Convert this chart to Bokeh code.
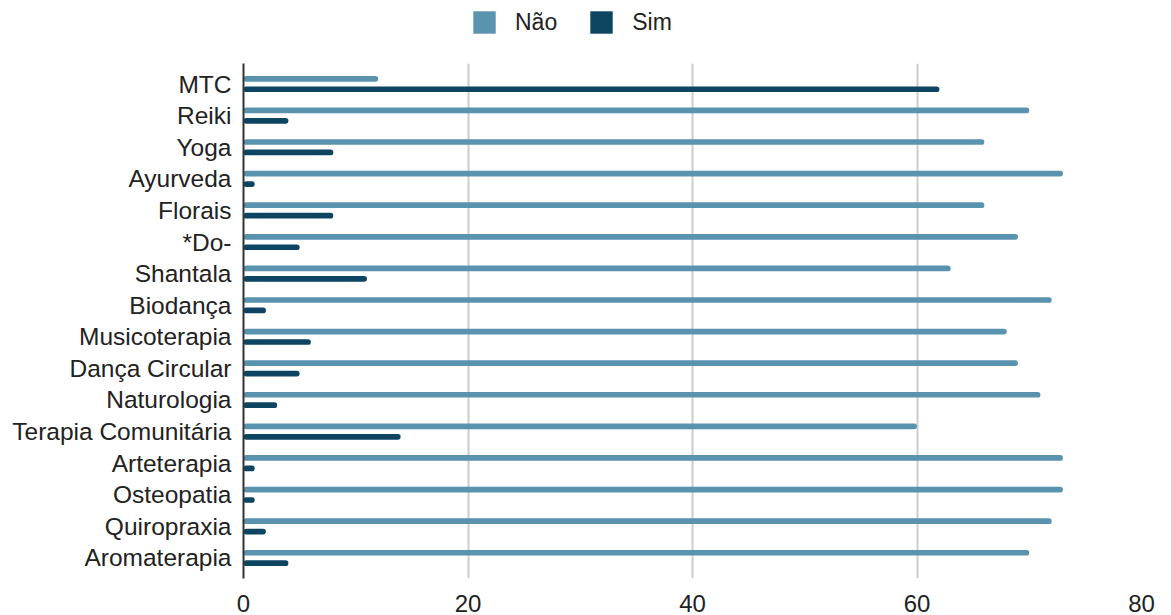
from bokeh.plotting import figure
from bokeh.layouts import column
from bokeh.models import ColumnDataSource, FactorRange, Range1d, Legend, LegendItem, FixedTicker
from bokeh.transform import dodge
from bokeh.embed import file_html
from bokeh.resources import INLINE

categories = ["MTC", "Reiki", "Yoga", "Ayurveda", "Florais", "*Do-", "Shantala", "Biodança",
              "Musicoterapia", "Dança Circular", "Naturologia", "Terapia Comunitária",
              "Arteterapia", "Osteopatia", "Quiropraxia", "Aromaterapia"]
nao = [12, 70, 66, 73, 66, 69, 63, 72, 68, 69, 71, 60, 73, 73, 72, 70]
sim = [62, 4, 8, 1, 8, 5, 11, 2, 6, 5, 3, 14, 1, 1, 2, 4]
series = ["Não", "Sim"]
x_ticks = [0, 20, 40, 60, 80]

C_NAO = "#5a93ad"
C_SIM = "#0c4462"
FONT = "Liberation Sans"

src = ColumnDataSource(data=dict(cat=categories, nao=nao, sim=sim))

# ---- legend strip (separate figure above the chart) ----
lf = figure(width=1161, height=63, x_range=Range1d(0, 1), y_range=Range1d(0, 1),
            output_backend="svg", toolbar_location=None, x_axis_type=None, y_axis_type=None,
            min_border=0)
lf.outline_line_color = None
lf.grid.visible = False
proxy = ColumnDataSource(data=dict(y=[0.5], left=[0], right=[0]))
lg_nao = lf.hbar(y="y", left="left", right="right", height=0, source=proxy,
                 fill_color=C_NAO, line_color=None)
lg_sim = lf.hbar(y="y", left="left", right="right", height=0, source=proxy,
                 fill_color=C_SIM, line_color=None)
legend = Legend(items=[LegendItem(label=series[0], renderers=[lg_nao], index=0),
                       LegendItem(label=series[1], renderers=[lg_sim], index=0)],
                orientation="horizontal", location=(227, 27),
                glyph_width=28, glyph_height=28, label_text_font=FONT,
                label_text_font_size="23px", label_text_color="#222222",
                spacing=30, label_standoff=17, border_line_color=None,
                background_fill_alpha=0, padding=0, margin=0)
lf.add_layout(legend, "center")

# ---- main chart ----
yr = FactorRange(*categories[::-1], range_padding=0.15, range_padding_units="absolute")
p = figure(y_range=yr, x_range=Range1d(0, 80),
           width=1161, height=552, output_backend="svg", toolbar_location=None,
           min_border_left=243, min_border_top=0, min_border_bottom=37, min_border_right=20)

p.hbar(y=dodge("cat", 0.165, range=p.y_range), left=0, right="nao", height=0.18,
       source=src, fill_color=C_NAO, line_color=None, border_radius=3)
p.hbar(y=dodge("cat", -0.165, range=p.y_range), left=0, right="sim", height=0.18,
       source=src, fill_color=C_SIM, line_color=None, border_radius=3)

p.outline_line_color = None
p.ygrid.grid_line_color = None
p.xgrid.grid_line_color = "#cccccc"
p.xgrid.grid_line_width = 2
p.xaxis.ticker = FixedTicker(ticks=x_ticks)
p.xaxis.axis_line_color = None
p.xaxis.major_tick_line_color = None
p.xaxis.minor_tick_line_color = None
p.xaxis.major_label_text_font = FONT
p.xaxis.major_label_text_font_size = "24px"
p.xaxis.major_label_text_color = "#222222"
p.xaxis.major_label_standoff = 10

p.yaxis.axis_line_color = "#333333"
p.yaxis.axis_line_width = 2
p.yaxis.major_tick_line_color = None
p.yaxis.minor_tick_line_color = None
p.yaxis.major_label_text_font = FONT
p.yaxis.major_label_text_font_size = "24.5px"
p.yaxis.major_label_text_color = "#222222"
p.yaxis.major_label_standoff = 6

layout = column(lf, p, spacing=0)
open("out.html", "w").write(file_html(layout, INLINE))
